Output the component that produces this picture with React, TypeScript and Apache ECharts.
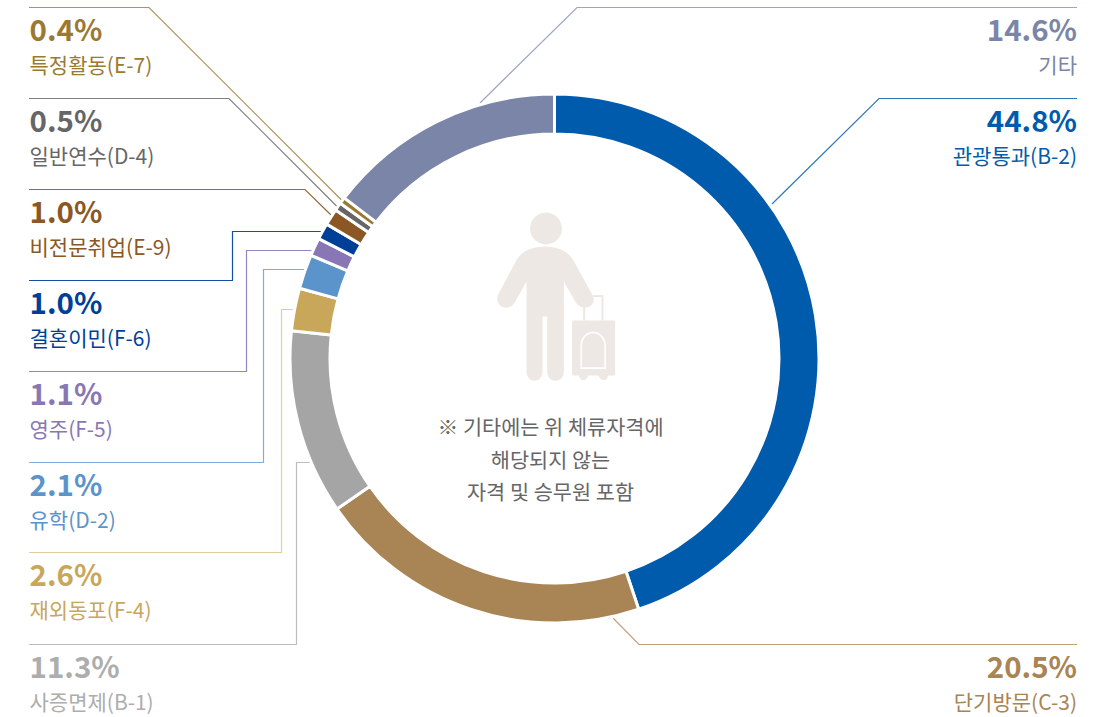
import React, { useEffect, useRef } from "react";
import * as echarts from "echarts";

const names = ["관광통과(B-2)", "단기방문(C-3)", "사증면제(B-1)", "재외동포(F-4)", "유학(D-2)", "영주(F-5)", "결혼이민(F-6)", "비전문취업(E-9)", "일반연수(D-4)", "특정활동(E-7)", "기타"];
const values = [44.8, 20.5, 11.3, 2.6, 2.1, 1.1, 1.0, 1.0, 0.5, 0.4, 14.6];
const colors = ["#005BAC", "#A98454", "#A5A5A5", "#C8A75B", "#5A94CA", "#8977B5", "#003F98", "#8B5724", "#666666", "#9A7A30", "#7A85A8"];
const valueColors = ["#005BAC", "#A98454", "#ADADAD", "#C8A75B", "#5A94CA", "#8977B5", "#003F98", "#8B5724", "#666666", "#9A7A30", "#7A85A8"];
const lineColors = ["#2F78BC", "#C0A27A", "#BDBDBD", "#E0CC9C", "#7FADDA", "#9385BD", "#124FA0", "#97683A", "#808080", "#AE9358", "#9BA4C2"];
const noteLines = ["※ 기타에는 위 체류자격에", "해당되지 않는", "자격 및 승무원 포함"];

const leaders: number[][][] = [
  [[1077, 98.5], [879, 98.5], [772, 204]],
  [[1077, 644.5], [639, 644.5], [613, 618]],
  [[29, 644.5], [296.5, 644.5], [296.5, 462.5], [310, 462.5]],
  [[29, 552.5], [281.5, 552.5], [281.5, 309.5], [293, 309.5]],
  [[29, 462.5], [263.5, 462.5], [263.5, 269.5], [304, 269.5]],
  [[29, 371.5], [246.5, 371.5], [246.5, 250.5], [312, 250.5]],
  [[29, 280.5], [232.5, 280.5], [232.5, 231.5], [321, 231.5]],
  [[29, 189.5], [305, 189.5], [331, 215]],
  [[29, 98.5], [229, 98.5], [337, 206.5]],
  [[29, 7.5], [149, 7.5], [342, 200.5]],
  [[1077, 7.5], [577, 7.5], [480, 103]],
];

const FONT = '"Noto Sans CJK KR", "Noto Sans", sans-serif';
const ICON = "#EEE8E4";

echarts.graphic.registerShape(
  "traveler",
  echarts.graphic.extendPath(
    "M375 170C335 170 305 185 290 210L237 310C225 330 235 350 255 353C270 355 280 345 287 333L320 275L320 545C320 582 368 582 368 545L368 380L382 380L382 545C382 582 432 582 432 545L432 275L465 333C475 350 490 356 505 352C525 345 525 325 515 310L460 210C445 185 415 170 375 170Z",
    {}
  )
);
echarts.graphic.registerShape(
  "arch",
  echarts.graphic.extendPath("M484 535L484 470C484 445 500 428 520 428C540 428 556 445 556 470L556 535Z", {})
);
echarts.graphic.registerShape(
  "handle",
  echarts.graphic.extendPath("M493 392L493 350M548 392L548 318L520 318", {})
);

export default function App() {
  const ref = useRef<HTMLDivElement>(null);
  useEffect(() => {
    const chart = echarts.init(ref.current!, undefined, { renderer: "svg" });
    const graphics: any[] = [];
    leaders.forEach((pts, i) => {
      graphics.push({
        type: "polyline",
        silent: true,
        shape: { points: pts },
        style: { stroke: lineColors[i], lineWidth: 1.2, fill: "none" },
      });
      const right = pts[0][0] > 500;
      const x = right ? 1077 : 29.5;
      const y = pts[0][1];
      graphics.push({
        type: "text",
        silent: true,
        x,
        y: y + 20.5,
        style: {
          text: `${values[i].toFixed(1)}%`,
          font: `bold 29.5px ${FONT}`,
          fill: valueColors[i],
          align: right ? "right" : "left",
          verticalAlign: "middle",
        },
      });
      graphics.push({
        type: "text",
        silent: true,
        x,
        y: y + 56,
        style: {
          text: names[i],
          font: `21px ${FONT}`,
          fill: valueColors[i],
          align: right ? "right" : "left",
          verticalAlign: "middle",
        },
      });
    });
    noteLines.forEach((t, i) => {
      graphics.push({
        type: "text",
        silent: true,
        x: 550.5,
        y: 426 + i * 32.5,
        style: { text: t, font: `20.8px ${FONT}`, fill: "#666666", align: "center", verticalAlign: "middle" },
      });
    });
    const s = 1 / 3;
    const ox = 420;
    const oy = 190;
    graphics.push(
      { type: "circle", silent: true, shape: { cx: 546, cy: 228.5, r: 16 }, style: { fill: ICON } },
      { type: "traveler", silent: true, x: ox, y: oy, scaleX: s, scaleY: s, style: { fill: ICON } },
      { type: "handle", silent: true, x: ox, y: oy, scaleX: s, scaleY: s, style: { fill: "none", stroke: ICON, lineWidth: 6 } },
      { type: "rect", silent: true, shape: { x: 572, y: 320.5, width: 43, height: 55, r: 1.5 }, style: { fill: ICON } },
      { type: "circle", silent: true, shape: { cx: 583.5, cy: 375.5, r: 4.5 }, style: { fill: ICON } },
      { type: "circle", silent: true, shape: { cx: 603.5, cy: 375.5, r: 4.5 }, style: { fill: ICON } },
      { type: "arch", silent: true, x: ox, y: oy, scaleX: s, scaleY: s, style: { fill: "none", stroke: "#FFFFFF", lineWidth: 5 } }
    );
    chart.setOption({
      animation: false,
      backgroundColor: "#FFFFFF",
      series: [
        {
          type: "pie",
          silent: true,
          center: [554.5, 358.5],
          radius: [224.5, 264.5],
          startAngle: 90,
          clockwise: true,
          label: { show: false },
          labelLine: { show: false },
          itemStyle: { borderColor: "#FFFFFF", borderWidth: 3 },
          data: names.map((name, i) => ({ name, value: values[i], itemStyle: { color: colors[i] } })),
        },
      ],
      graphic: graphics,
    });
    return () => chart.dispose();
  }, []);
  return <div ref={ref} style={{ position: "absolute", left: 0, top: 0, width: 1108, height: 717 }} />;
}
